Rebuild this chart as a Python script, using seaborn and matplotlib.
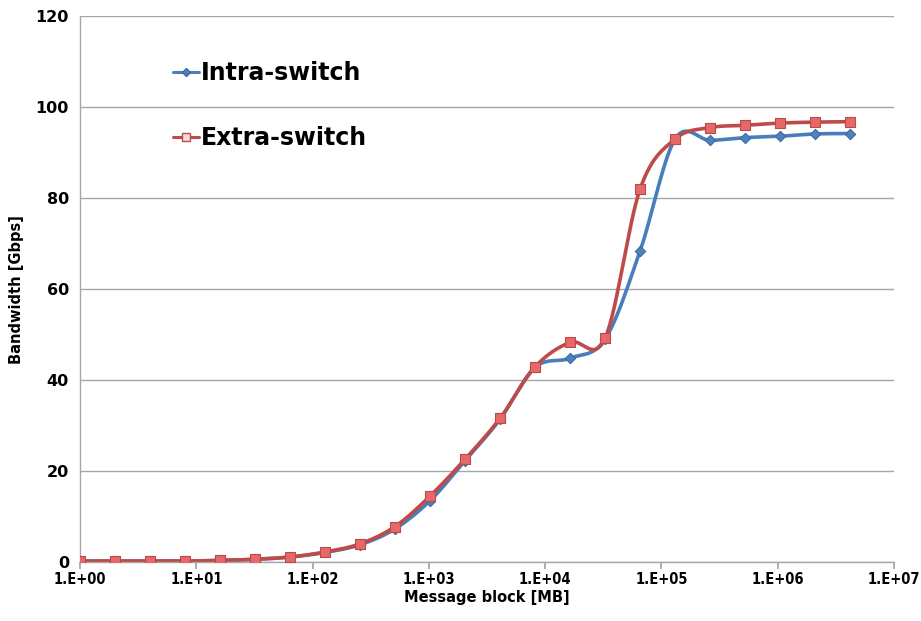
import numpy as np
import pandas as pd
import matplotlib
matplotlib.use("Agg")
import matplotlib.pyplot as plt
from matplotlib.lines import Line2D
import seaborn as sns

# ---- data ----
block_mb = [2 ** i for i in range(23)]
intra = [0.2, 0.2, 0.2, 0.2, 0.35, 0.6, 1.1, 2.1, 3.8, 7.3, 13.5, 22.3, 31.4, 42.8, 44.8, 49.0,
         68.4, 93.0, 92.7, 93.3, 93.6, 94.1, 94.2]
extra = [0.2, 0.2, 0.2, 0.2, 0.35, 0.6, 1.1, 2.2, 4.0, 7.8, 14.5, 22.6, 31.6, 42.9, 48.3, 49.2,
         82.0, 93.0, 95.5, 96.0, 96.5, 96.7, 96.8]
series_names = ["Intra-switch", "Extra-switch"]
xtick_vals = [1, 10, 100, 1000, 10 ** 4, 10 ** 5, 10 ** 6, 10 ** 7]
xtick_labels = ["1.E+00", "1.E+01", "1.E+02", "1.E+03", "1.E+04", "1.E+05", "1.E+06", "1.E+07"]
ytick_vals = [0, 20, 40, 60, 80, 100, 120]

sns.set_theme(style="white")
plt.rcParams['font.family'] = ['DejaVu Sans']
plt.rcParams['text.color'] = 'black'
plt.rcParams['axes.labelcolor'] = 'black'

def smooth(xs, ys, n=30):
    # uniform Catmull-Rom in (log10 x, y) display-scaled space (Excel-like smoothing)
    lx = np.log10(np.asarray(xs, float)) * 116.3
    yy = np.asarray(ys, float) * 4.55
    P = np.column_stack([lx, yy])
    P = np.vstack([P[0] - (P[1] - P[0]), P, P[-1] + (P[-1] - P[-2])])
    out = []
    for i in range(1, len(P) - 2):
        p0, p1, p2, p3 = P[i - 1], P[i], P[i + 1], P[i + 2]
        t = np.linspace(0, 1, n, endpoint=False)[:, None]
        seg = 0.5 * ((2 * p1) + (-p0 + p2) * t + (2 * p0 - 5 * p1 + 4 * p2 - p3) * t ** 2
                     + (-p0 + 3 * p1 - 3 * p2 + p3) * t ** 3)
        out.append(seg)
    out.append(P[-2][None, :])
    out = np.vstack(out)
    return 10 ** (out[:, 0] / 116.3), out[:, 1] / 4.55

fig = plt.figure(figsize=(9.21, 6.21), dpi=100)
ax = fig.add_axes([0.0869, 0.095, 0.8838, 0.879])

blue = "#4A7EBB"
red = "#BE4B48"
cfg = [(intra, blue, "D", "#4F81BD", "#3A6BA5", 5),
       (extra, red, "s", "#E8676A", "#B84A48", 7)]
for (vals, lc, mk, mfc, mec, ms), name in zip(cfg, series_names):
    sx, sy = smooth(block_mb, vals)
    dfl = pd.DataFrame({"x": sx, "y": sy})
    sns.lineplot(data=dfl, x="x", y="y", ax=ax, color=lc, linewidth=2.6, sort=False,
                 estimator=None, legend=False)
    dfp = pd.DataFrame({"x": block_mb, "y": vals})
    sns.scatterplot(data=dfp, x="x", y="y", ax=ax, marker=mk, s=ms ** 2 * 1.1, color=mfc,
                    edgecolor=mec, linewidth=0.8, legend=False, zorder=3)

ax.set_xscale("log")
ax.set_xlim(1, 1e7)
ax.set_ylim(0, 120)
ax.set_xticks(xtick_vals)
ax.set_xticklabels(xtick_labels, fontsize=10.5, fontweight="bold", stretch="condensed")
ax.xaxis.set_minor_locator(matplotlib.ticker.NullLocator())
ax.set_yticks(ytick_vals)
ax.set_yticklabels([str(v) for v in ytick_vals], fontsize=11.5, fontweight="bold")
ax.yaxis.grid(True, color="#A6A6A6", linewidth=1.0)
ax.xaxis.grid(False)
for s in ["top", "right"]:
    ax.spines[s].set_visible(False)
for s in ["left", "bottom"]:
    ax.spines[s].set_color("#A6A6A6")
    ax.spines[s].set_linewidth(1.0)
ax.tick_params(axis="x", which="major", direction="out", length=5, color="#A6A6A6",
               bottom=True, pad=2, labelcolor="black")
ax.tick_params(axis="y", length=0, pad=8, labelcolor="black")
ax.set_xlabel("Message block [MB]", fontsize=10.5, fontweight="bold", labelpad=2)
ax.set_ylabel("Bandwidth [Gbps]", fontsize=10.5, fontweight="bold", labelpad=8)

handles = [Line2D([0], [0], color=blue, marker="D", markersize=4, markerfacecolor="#4F81BD",
                  markeredgecolor="#3A6BA5", linewidth=2.2),
           Line2D([0], [0], color=red, marker="s", markersize=6, markerfacecolor="#F2DCDB",
                  markeredgecolor=red, linewidth=2.2)]
leg = ax.legend(handles, series_names, loc="upper left", bbox_to_anchor=(0.088, 0.957),
                frameon=False, handlelength=1.1, handletextpad=0.1, labelspacing=1.75,
                prop={"size": 17, "weight": "bold"})
for t in leg.get_texts():
    t.set_color("black")

fig.savefig("out.png", dpi=100, facecolor="white")
